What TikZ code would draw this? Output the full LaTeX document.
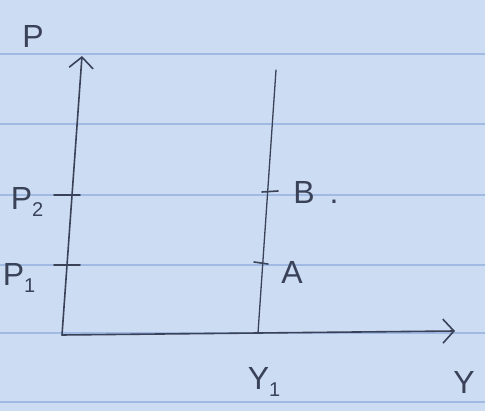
\documentclass[tikz,border=0pt]{standalone}
\usepackage{fontspec}
\setmainfont{Liberation Sans}
\usetikzlibrary{arrows.meta}
\definecolor{paper}{RGB}{204,220,242}
\definecolor{rule}{RGB}{160,186,228}
\definecolor{ink}{RGB}{58,66,88}
\newcommand{\subs}[1]{\raisebox{-7pt}{\fontsize{20}{20}\selectfont #1}}
\tikzset{
  pen/.style={draw=ink,line width=1.6pt,line cap=round},
  axis/.style={pen,-{Straight Barb[length=11pt,width=24pt,line width=1.6pt]}},
  lbl/.style={text=ink,font=\fontsize{32}{32}\selectfont,inner sep=0pt},
}
\begin{document}
\begin{tikzpicture}[x=1pt,y=-1pt]
  % paper
  \path[fill=paper] (0,0) rectangle (485,411);
  \useasboundingbox (0,0) rectangle (485,411);
  \foreach \ry in {54,124,195,265,333,402}
    \path[draw=rule,line width=1.2pt] (0,\ry) -- (485,\ry);

  % axes
  \coordinate (O) at (62,335);
  \coordinate (Ptop) at (82,56);
  \coordinate (Yend) at (455,331);
  \path[axis] (O) -- (Ptop);
  \path[axis] (O) -- (Yend);

  % vertical line at Y1
  \coordinate (Ybot) at (258,333);
  \coordinate (Ytop) at (276,70);
  \path[pen,line width=1.3pt] (Ybot) -- (Ytop);

  % ticks
  \coordinate (p2a) at (54,195); \coordinate (p2b) at (80,195);
  \coordinate (p1a) at (54,265); \coordinate (p1b) at (80,265);
  \coordinate (ba) at (262,192); \coordinate (bb) at (278,191);
  \coordinate (aa) at (254,262); \coordinate (ab) at (268,264);
  \path[pen] (p2a) -- (p2b);
  \path[pen] (p1a) -- (p1b);
  \path[pen] (ba) -- (bb);
  \path[pen] (aa) -- (ab);

  % labels
  \node[lbl] (P) at (33,36) {P};
  \node[lbl] (P2) at (27,202) {P\subs{2}};
  \node[lbl] (P1) at (19,278) {P\subs{1}};
  \node[lbl] (B) at (304,192) {B};
  \node[lbl] (dot) at (334,202) {.};
  \node[lbl] (A) at (292,272) {A};
  \node[lbl] (Y1) at (264,382) {Y\subs{1}};
  \node[lbl] (Y) at (464,382) {Y};
\end{tikzpicture}
\end{document}
